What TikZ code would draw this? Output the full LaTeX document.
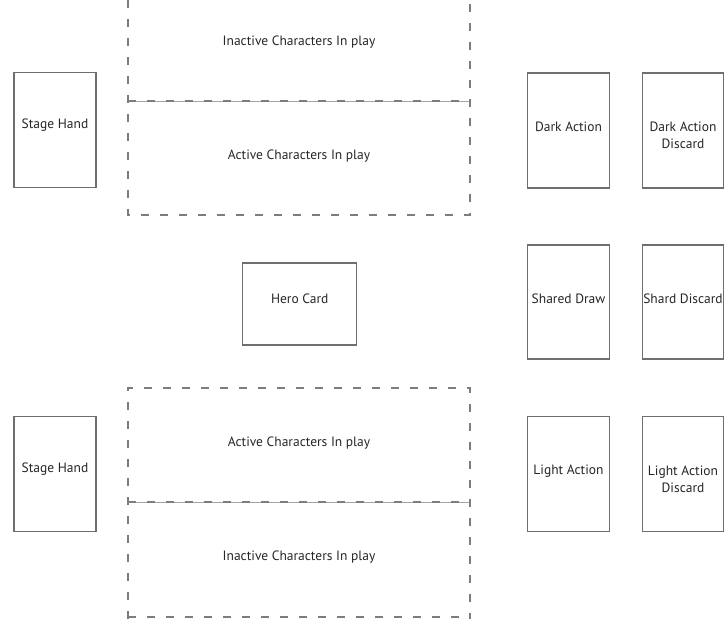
\documentclass[tikz,border=0pt]{standalone}
\usepackage{fontspec}
\setmainfont{PT Sans}
\definecolor{boxgray}{HTML}{6E6E6E}
\definecolor{dashgray}{HTML}{7D7D7D}
\definecolor{txt}{HTML}{262626}
\begin{document}
\begin{tikzpicture}[x=1pt,y=-1pt,
  card/.style={draw=boxgray, line width=1.3pt, fill=white, inner sep=0pt},
  lbl/.style={text=txt, font=\fontsize{13.5}{17}\selectfont, align=center, inner sep=0pt},
  zone/.style={draw=dashgray, line width=1.1pt, dash pattern=on 8pt off 11pt},
  divider/.style={draw=dashgray!70, line width=0.7pt}]
\useasboundingbox (0,0) rectangle (727,619);

% top play area
\draw[divider] (128,101) -- (470,101);
\draw[zone] (128,101) -- (470,101);
\draw[zone] (128,0) -- (128,215) -- (470,215) -- (470,0);
\node[lbl] (tinact) at (299,42) {Inactive Characters In play};
\node[lbl] (tact) at (299,156) {Active Characters In play};

% bottom play area
\draw[divider] (128,502) -- (470,502);
\draw[zone] (128,502) -- (470,502);
\draw[zone] (128,619) -- (128,388) -- (470,388) -- (470,619);
\draw[zone] (128,617) -- (470,617);
\node[lbl] (bact) at (299,443) {Active Characters In play};
\node[lbl] (binact) at (299,557) {Inactive Characters In play};

% cards
\node[card, minimum width=82pt, minimum height=115pt] (sh1) at (55,130) {};
\node[lbl] at ([yshift=5pt]sh1.center) {Stage Hand};
\node[card, minimum width=82pt, minimum height=115pt] (sh2) at (55,474) {};
\node[lbl] at ([yshift=5pt]sh2.center) {Stage Hand};

\node[card, minimum width=114pt, minimum height=82pt] (hero) at (299.7,304) {};
\node[lbl] at ([yshift=5pt]hero.center) {Hero Card};

\node[card, minimum width=82pt, minimum height=115pt] (dark) at (568.5,130.5) {};
\node[lbl] at ([yshift=3.5pt]dark.center) {Dark Action};
\node[card, minimum width=81pt, minimum height=115pt] (darkd) at (683,130.5) {};
\node[lbl] at ([yshift=-5pt]darkd.center) {Dark Action\\Discard};

\node[card, minimum width=82pt, minimum height=114pt] (shd) at (568.5,302) {};
\node[lbl] at ([yshift=3pt]shd.center) {Shared Draw};
\node[card, minimum width=81pt, minimum height=114pt] (shdd) at (683,302) {};
\node[lbl] at ([yshift=3pt]shdd.center) {Shard Discard};

\node[card, minimum width=82pt, minimum height=115pt] (light) at (568.5,474) {};
\node[lbl] at ([yshift=3pt]light.center) {Light Action};
\node[card, minimum width=81pt, minimum height=115pt] (lightd) at (683,474) {};
\node[lbl] at ([yshift=-5pt]lightd.center) {Light Action\\Discard};
\end{tikzpicture}
\end{document}
